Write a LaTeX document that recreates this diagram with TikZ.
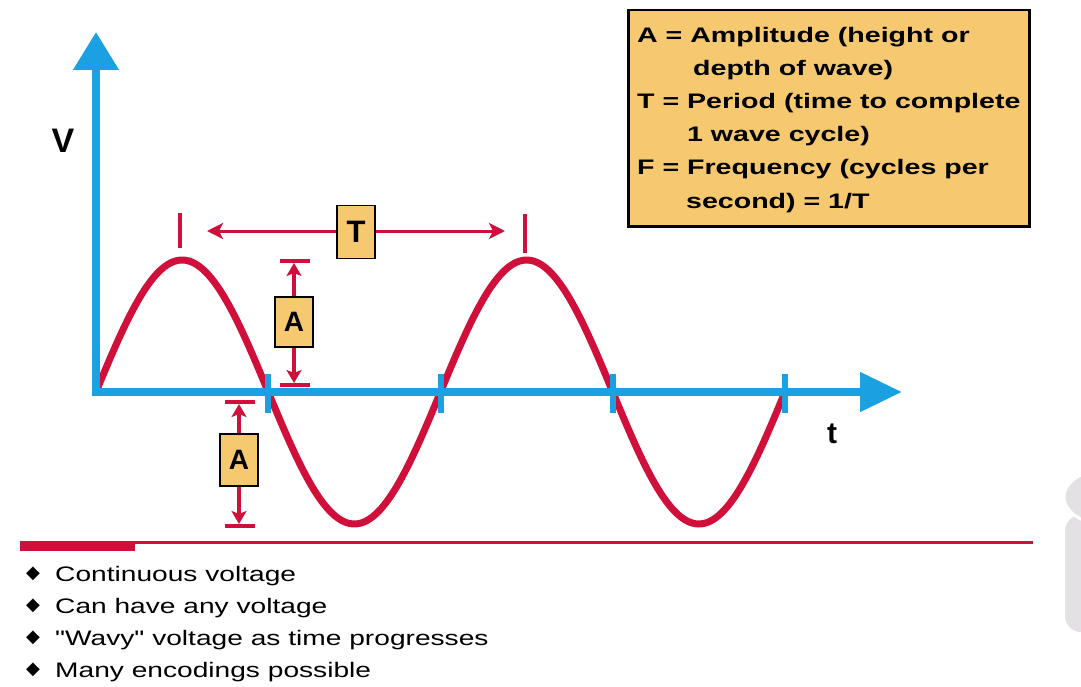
\documentclass[tikz,border=0pt]{standalone}
\usepackage{fontspec}
\setmainfont{Liberation Sans}
\newfontfamily\legfont[FakeStretch=1.36]{Liberation Sans}
\newfontfamily\bulfont[FakeStretch=1.34]{Liberation Sans}
\newfontfamily\symfont{DejaVu Sans}
\usetikzlibrary{arrows.meta}
\definecolor{axisblue}{RGB}{27,160,226}
\definecolor{wavered}{RGB}{208,16,58}
\definecolor{boxfill}{RGB}{246,200,112}
\definecolor{icongray}{RGB}{227,225,227}
\begin{document}
\begin{tikzpicture}[x=1pt,y=-1pt,
  axis/.style={draw=axisblue,line width=8pt},
  zerotick/.style={draw=axisblue,line width=6pt},
  wave/.style={draw=wavered,line width=7pt},
  marker/.style={draw=wavered,line width=4pt},
  dimT/.style={draw=wavered,line width=3pt,-{Stealth[length=16pt,width=16pt,inset=4pt]}},
  dimA/.style={draw=wavered,line width=3.5pt,-{Stealth[length=13pt,width=15pt,inset=3pt]}},
  labelbox/.style={draw=black,line width=1.5pt,fill=boxfill,inner sep=0pt},
  legendline/.style={anchor=base west,inner sep=0pt,font=\legfont\bfseries\fontsize{21}{25}\selectfont},
  bullettext/.style={anchor=base west,inner sep=0pt,font=\bulfont\fontsize{21}{25}\selectfont},
  bulletmark/.style={inner sep=0pt,font=\symfont\fontsize{18}{18}\selectfont},
]
\useasboundingbox (0,0) rectangle (1081,687);

% gray icon at the right edge
\begin{scope}
  \clip (0,0) rectangle (1081,687);
  \fill[icongray,rounded corners=16pt] (1065,515) rectangle (1140,632);
  \draw[white,line width=3pt,fill=icongray] (1108,497) ellipse [x radius=44pt, y radius=28pt];
\end{scope}

% sine wave
\draw[wave] plot[domain=0:720,samples=240] ({96+0.956944*\x},{392-132*sin(\x)});

% axes
\coordinate (O) at (96,396);
\coordinate (Oh) at (92,392);
\coordinate (vtip) at (96,32);
\coordinate (htip) at (902,392);
\draw[axis,-{Triangle[length=38pt,width=44pt]}] (O) -- (vtip);
\draw[axis,-{Triangle[length=42pt,width=38pt]}] (Oh) -- (htip);
\foreach \zx in {268.25,440.5,612.75,785} \draw[zerotick] (\zx,374) -- (\zx,413);

\node[font=\bfseries\fontsize{34}{34}\selectfont] (V) at (63,141) {V};
\node[font=\bfseries\fontsize{30}{30}\selectfont] (t) at (832,434) {t};

% period marker
\draw[marker] (180,213) -- (180,248);
\draw[marker] (525,214) -- (525,253);
\node[labelbox,minimum width=38pt,minimum height=53pt,font=\bfseries\fontsize{31}{31}\selectfont] (Tbox) at (356,232) {T};
\coordinate (Tl) at (207,231);
\coordinate (Tr) at (505,231);
\draw[dimT] (Tbox.west |- Tl) -- (Tl);
\draw[dimT] (Tbox.east |- Tr) -- (Tr);

% upper amplitude marker
\draw[marker] (280,261) -- (310,261);
\draw[marker] (280,385) -- (310,385);
\node[labelbox,minimum width=38pt,minimum height=50pt,font=\bfseries\fontsize{28}{28}\selectfont] (A1) at (294,322) {A};
\coordinate (A1t) at (294,263);
\coordinate (A1b) at (294,383);
\draw[dimA] (A1.north) -- (A1t);
\draw[dimA] (A1.south) -- (A1b);

% lower amplitude marker
\draw[marker] (225,402) -- (255,402);
\draw[marker] (225,526) -- (255,526);
\node[labelbox,minimum width=38pt,minimum height=52pt,font=\bfseries\fontsize{28}{28}\selectfont] (A2) at (239,460) {A};
\coordinate (A2t) at (239,404);
\coordinate (A2b) at (239,524);
\draw[dimA] (A2.north) -- (A2t);
\draw[dimA] (A2.south) -- (A2b);

% legend
\node[draw=black,line width=2.5pt,fill=boxfill,minimum width=401pt,minimum height=216pt,anchor=north west,inner sep=0pt] (legend) at (627,9) {};
\node[legendline] (l1) at (637,43) {A = Amplitude (height or};
\node[legendline] (l2) at (693,76) {depth of wave)};
\node[legendline] (l3) at (637,109) {T = Period (time to complete};
\node[legendline] (l4) at (687,142) {1 wave cycle)};
\node[legendline] (l5) at (637,175) {F = Frequency (cycles per};
\node[legendline] (l6) at (686,208) {second) = 1/T};

% separator line
\fill[wavered] (20,541) rectangle (135,551);
\coordinate (sepL) at (20,542.5);
\coordinate (sepR) at (1033,542.5);
\draw[wavered,line width=2.5pt] (sepL) -- (sepR);

% bullet list
\node[bulletmark] (m1) at (33,574) {◆};
\node[bulletmark] (m2) at (33,606) {◆};
\node[bulletmark] (m3) at (33,638) {◆};
\node[bulletmark] (m4) at (33,670) {◆};
\node[bullettext] (b1) at (55,581) {Continuous voltage};
\node[bullettext] (b2) at (55,613) {Can have any voltage};
\node[bullettext] (b3) at (55,645) {"Wavy" voltage as time progresses};
\node[bullettext] (b4) at (55,677) {Many encodings possible};
\end{tikzpicture}
\end{document}
